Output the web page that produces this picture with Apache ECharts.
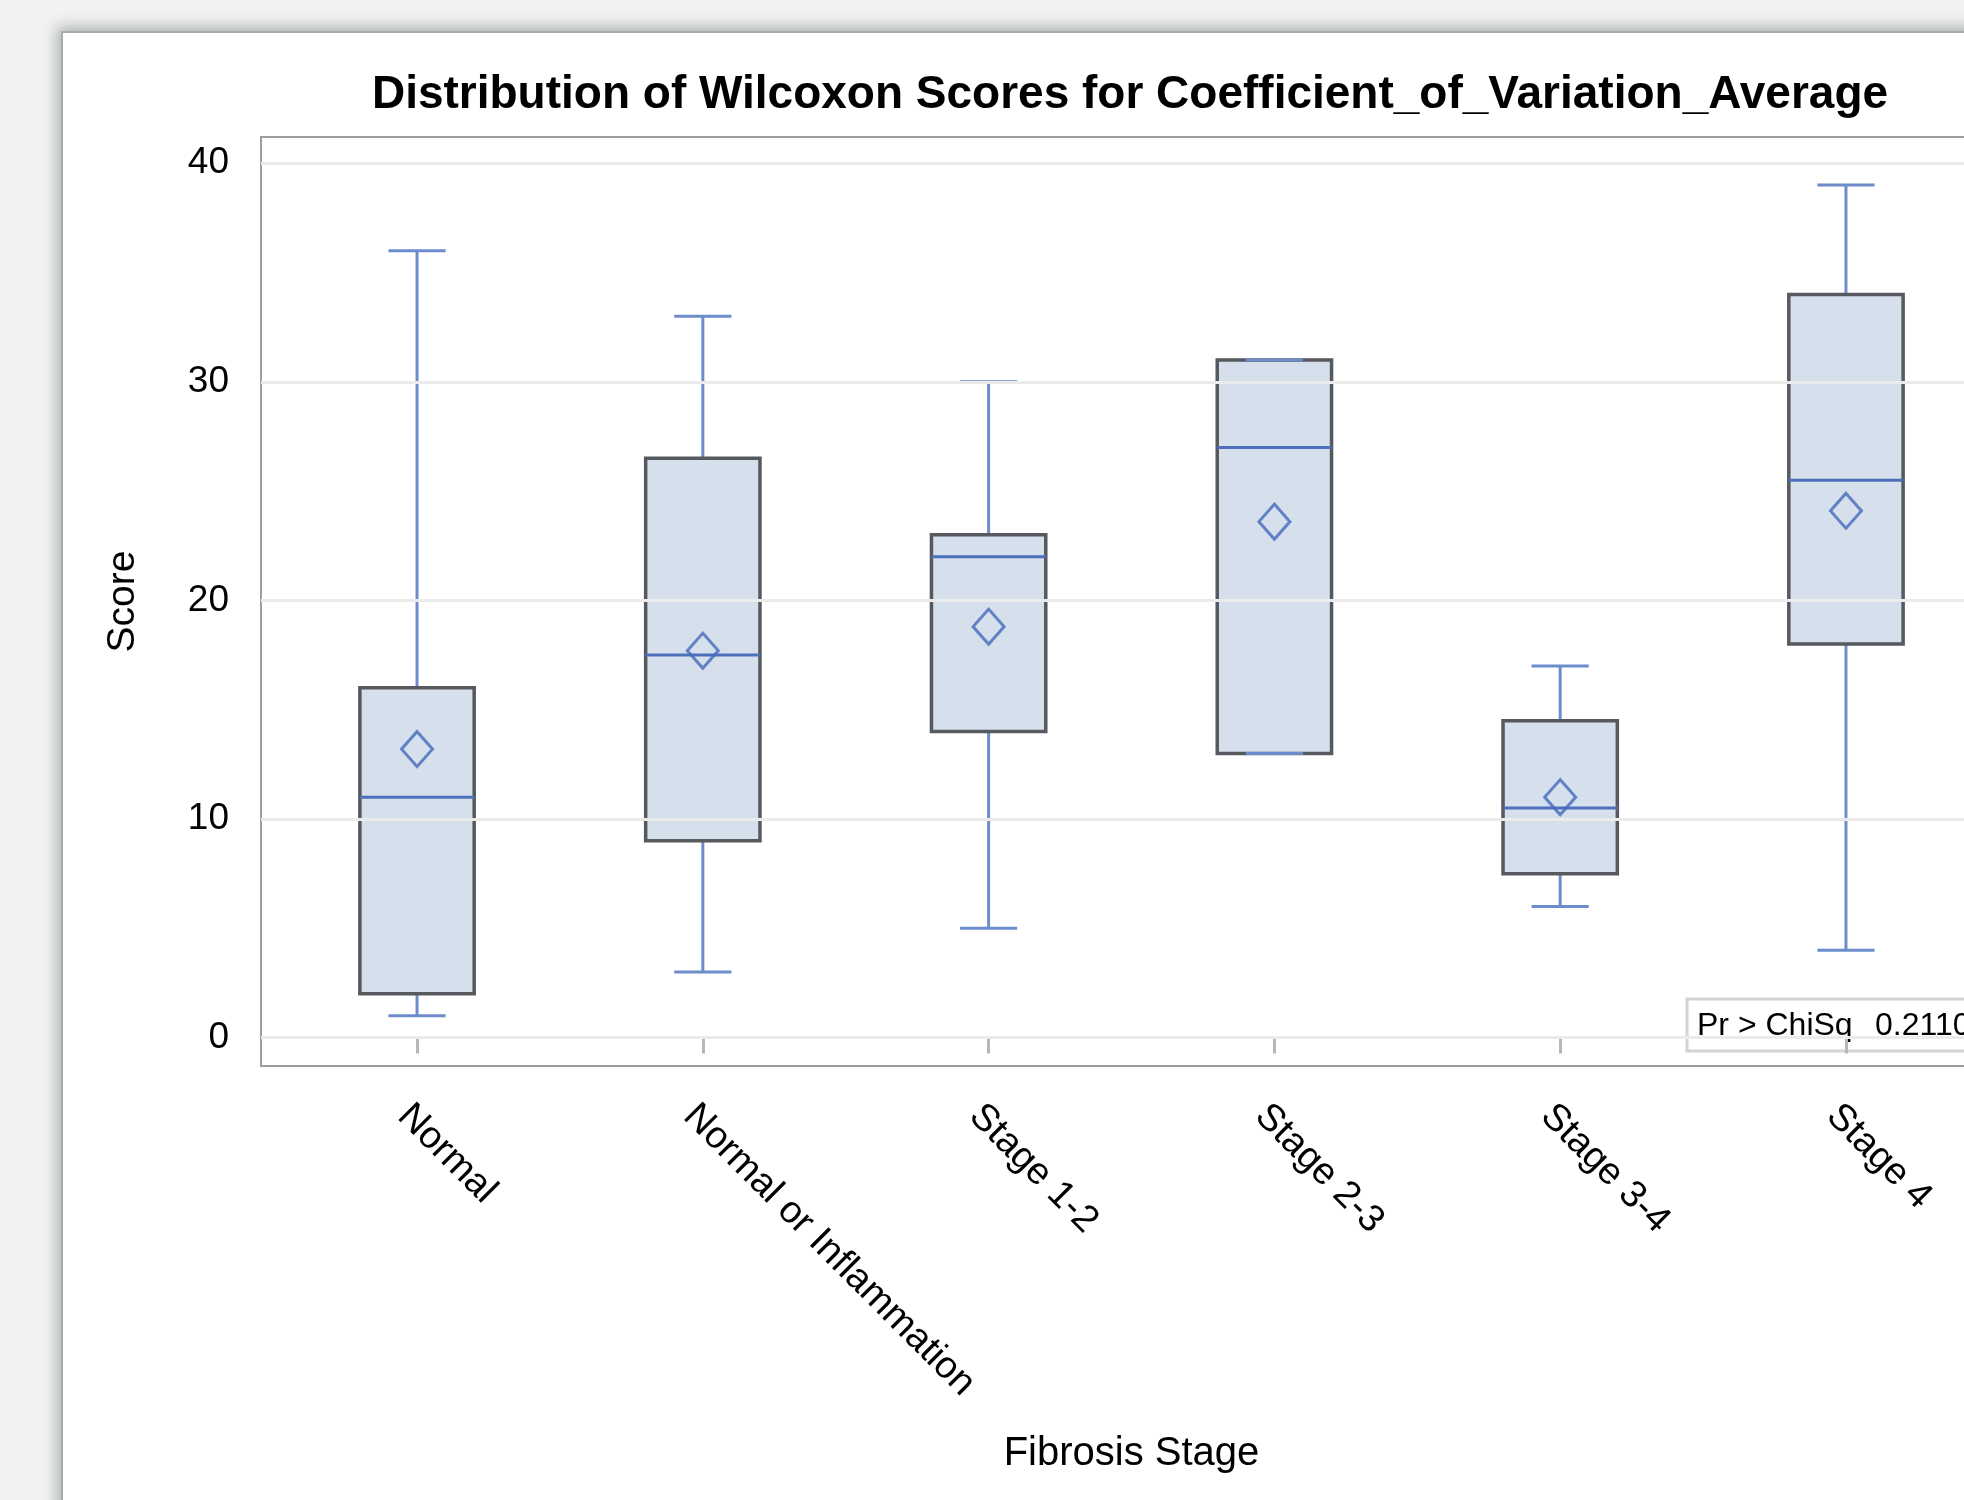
<!DOCTYPE html>
<html>
<head>
<meta charset="utf-8">
<script src="https://cdn.jsdelivr.net/npm/echarts@6/dist/echarts.min.js"></script>
<style>
  html, body { margin: 0; padding: 0; width: 1964px; height: 1500px; background: #f1f2f2; overflow: hidden; }
  #panel { position: absolute; left: 61px; top: 31px; width: 2000px; height: 1600px; background: #ffffff;
           border: 2px solid #a6acb1; box-shadow: -4px -4px 14px rgba(0,0,0,0.28); }
  #chart { position: absolute; left: 0; top: 0; width: 1964px; height: 1500px; }
</style>
</head>
<body>
<div id="panel"></div>
<div id="chart"></div>
<script>
const categories = ['Normal', 'Normal or Inflammation', 'Stage 1-2', 'Stage 2-3', 'Stage 3-4', 'Stage 4'];
const minVals    = [1, 3, 5, 13, 6, 4];
const q1Vals     = [2, 9, 14, 13, 7.5, 18];
const medianVals = [11, 17.5, 22, 27, 10.5, 25.5];
const q3Vals     = [16, 26.5, 23, 31, 14.5, 34];
const maxVals    = [36, 33, 30, 31, 17, 39];
const meanVals   = [13.2, 17.7, 18.8, 23.6, 11, 24.1];
const yTicks     = [0, 10, 20, 30, 40];
const titleText  = 'Distribution of Wilcoxon Scores for Coefficient_of_Variation_Average';
const xTitle     = 'Fibrosis Stage';
const yTitle     = 'Score';
const statLabel  = 'Pr > ChiSq';
const statValue  = '0.2110';

const FONT = "'Liberation Sans', Arial, sans-serif";
const catIdx = categories.map((c, i) => i);
const boxData = categories.map((c, i) => [i, minVals[i], q1Vals[i], medianVals[i], q3Vals[i], maxVals[i]]);
const meanData = categories.map((c, i) => [i, meanVals[i]]);

const chart = echarts.init(document.getElementById('chart'), null, { renderer: 'canvas' });

function renderBox(params, api) {
  const x = api.value(0);
  const pMin = api.coord([x, api.value(1)]);
  const pQ1 = api.coord([x, api.value(2)]);
  const pMed = api.coord([x, api.value(3)]);
  const pQ3 = api.coord([x, api.value(4)]);
  const pMax = api.coord([x, api.value(5)]);
  const unit = api.size([1, 0])[0];
  const bw = unit * 0.2;
  const cw = unit * 0.1;
  const cx = pMed[0];
  const whisk = { stroke: '#6d8ccb', lineWidth: 3 };
  return {
    type: 'group',
    children: [
      { type: 'line', shape: { x1: cx, y1: pQ3[1], x2: cx, y2: pMax[1] }, style: whisk },
      { type: 'line', shape: { x1: cx, y1: pQ1[1], x2: cx, y2: pMin[1] }, style: whisk },
      { type: 'rect', shape: { x: cx - bw, y: pQ3[1], width: bw * 2, height: pQ1[1] - pQ3[1] },
        style: { fill: 'rgba(186,201,223,0.6)', stroke: '#56595d', lineWidth: 3.5 } },
      { type: 'line', shape: { x1: cx - bw, y1: pMed[1], x2: cx + bw, y2: pMed[1] }, style: { stroke: '#4d70bc', lineWidth: 3 } },
      { type: 'line', shape: { x1: cx - cw, y1: pMax[1], x2: cx + cw, y2: pMax[1] }, style: whisk },
      { type: 'line', shape: { x1: cx - cw, y1: pMin[1], x2: cx + cw, y2: pMin[1] }, style: whisk }
    ]
  };
}

const option = {
  animation: false,
  backgroundColor: 'transparent',
  textStyle: { fontFamily: FONT },
  grid: {
    left: 261, top: 137, width: 1741, height: 929,
    outerBoundsMode: 'none', containLabel: false,
    show: true, borderColor: '#9a9ea2', borderWidth: 2, backgroundColor: 'transparent'
  },
  xAxis: {
    type: 'value',
    min: -0.546, max: 5.546,
    name: xTitle, nameLocation: 'middle', nameGap: 368,
    nameTextStyle: { fontSize: 40, color: '#000', fontFamily: FONT },
    axisLine: { show: false },
    splitLine: { show: false },
    axisTick: { show: true, customValues: catIdx, length: 16, lineStyle: { color: '#b4b8bb', width: 3 } },
    axisLabel: {
      customValues: catIdx, rotate: -45, margin: 31, verticalAlign: 'top',
      fontSize: 38, color: '#000', fontFamily: FONT,
      formatter: v => categories[Math.round(v)]
    }
  },
  yAxis: {
    type: 'value',
    min: -1.3, max: 41.2,
    name: yTitle, nameLocation: 'middle', nameGap: 118,
    nameTextStyle: { fontSize: 39, color: '#000', fontFamily: FONT },
    axisLine: { show: false },
    splitLine: { show: false },
    axisTick: { show: true, customValues: yTicks, length: 20, lineStyle: { color: '#b4b8bb', width: 3 } },
    axisLabel: { customValues: yTicks, margin: 32, fontSize: 37, color: '#000', fontFamily: FONT }
  },
  series: [
    {
      type: 'line', data: [], z: 1, silent: true,
      markLine: {
        silent: true, symbol: ['none', 'none'], label: { show: false },
        lineStyle: { color: '#ebebeb', width: 3, type: 'solid' },
        data: yTicks.map(v => ({ yAxis: v }))
      }
    },
    {
      type: 'custom', z: 3, renderItem: renderBox, data: boxData,
      encode: { x: 0, y: [1, 2, 3, 4, 5] }
    },
    {
      type: 'scatter', z: 4, data: meanData, symbol: 'diamond', symbolSize: [31, 35],
      itemStyle: { color: 'rgba(0,0,0,0)', borderColor: '#4669bd', borderWidth: 3 }
    }
  ],
  graphic: [
    {
      type: 'text', x: 1130, y: 95, z: 10,
      style: { text: titleText, font: "bold 46px " + FONT, fill: '#000', textAlign: 'center', textVerticalAlign: 'middle' }
    },
    {
      type: 'group', x: 1687, y: 999, z: 10,
      children: [
        { type: 'rect', shape: { x: 0, y: 0, width: 400, height: 52 }, style: { fill: '#fff', stroke: '#d4d4d4', lineWidth: 3 } },
        { type: 'text', x: 10, y: 27, style: { text: statLabel, font: "32px " + FONT, fill: '#000', textVerticalAlign: 'middle' } },
        { type: 'text', x: 188, y: 27, style: { text: statValue, font: "32px " + FONT, fill: '#000', textVerticalAlign: 'middle' } }
      ]
    }
  ]
};
chart.setOption(option);
</script>
</body>
</html>
